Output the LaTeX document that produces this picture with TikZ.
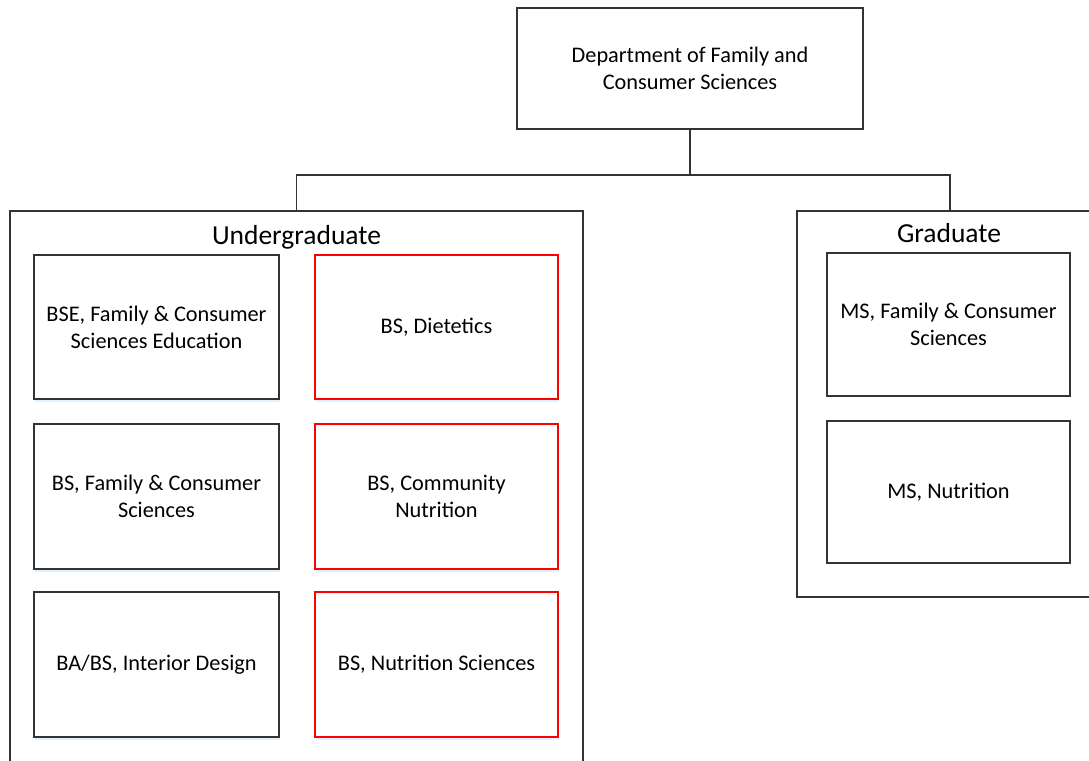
\documentclass[tikz,border=0pt]{standalone}
\usepackage{fontspec}
\setmainfont{Carlito}
\usetikzlibrary{shadows}
\begin{document}
\begin{tikzpicture}[x=1pt,y=-1pt,
  every node/.style={inner sep=0pt, outer sep=0pt},
  wire/.style={draw=black!80, line width=1.4pt},
  group/.style={draw=black!80, line width=1.4pt, rectangle},
  prog/.style={draw=black!80, line width=1.4pt, rectangle, align=center, fill=white,
    font=\fontsize{22.3}{27}\selectfont, minimum width=245pt, minimum height=144pt},
  shad/.style={drop shadow={fill=blue!40!cyan, opacity=0.12, shadow xshift=1pt, shadow yshift=-3pt}},
  progred/.style={prog, draw=red, line width=1.2pt},
  head/.style={font=\fontsize{27.5}{30}\selectfont}]
\useasboundingbox (0,0) rectangle (1089,760);
\clip (0,0) rectangle (1089,760);
\fill[white] (0,0) rectangle (1089,760);
% main box
\node[prog, minimum width=346pt, minimum height=121pt] (dept) at (690,68.5) {Department of Family and\\Consumer Sciences};
% groups
\node[group, minimum width=573pt, minimum height=570pt] (ug) at (296.5,496) {};
\node[group, minimum width=306pt, minimum height=386pt] (gr) at (950,404) {};
\node[head] (ugl) at (296.5,237) {Undergraduate};
\node[head] (grl) at (949,233) {Graduate};
% undergraduate programs
\node[prog, shad] (bse) at (156.5,327) {BSE, Family \& Consumer\\Sciences Education};
\node[prog, shad, minimum height=145pt] (bsf) at (156.5,496.5) {BS, Family \& Consumer\\Sciences};
\node[prog, shad, minimum height=145pt] (bai) at (156.5,664.5) {BA/BS, Interior Design};
\node[progred, shad, minimum width=243pt] (bsd) at (436.5,327) {BS, Dietetics};
\node[progred, shad, minimum width=243pt, minimum height=145pt] (bsc) at (436.5,496.5) {BS, Community\\Nutrition};
\node[progred, shad, minimum width=243pt, minimum height=145pt] (bsn) at (436.5,664.5) {BS, Nutrition Sciences};
% graduate programs
\node[prog, minimum width=243pt, minimum height=143pt] (msf) at (948.5,324.5) {MS, Family \& Consumer\\Sciences};
\node[prog, minimum width=243pt, minimum height=142pt] (msn) at (948.5,492) {MS, Nutrition};
% connectors
\coordinate (j) at (690,175);
\draw[wire] (dept.south) -- (j);
\draw[wire] (j) -| (ug.north);
\draw[wire] (j) -| (gr.north);
\end{tikzpicture}
\end{document}
